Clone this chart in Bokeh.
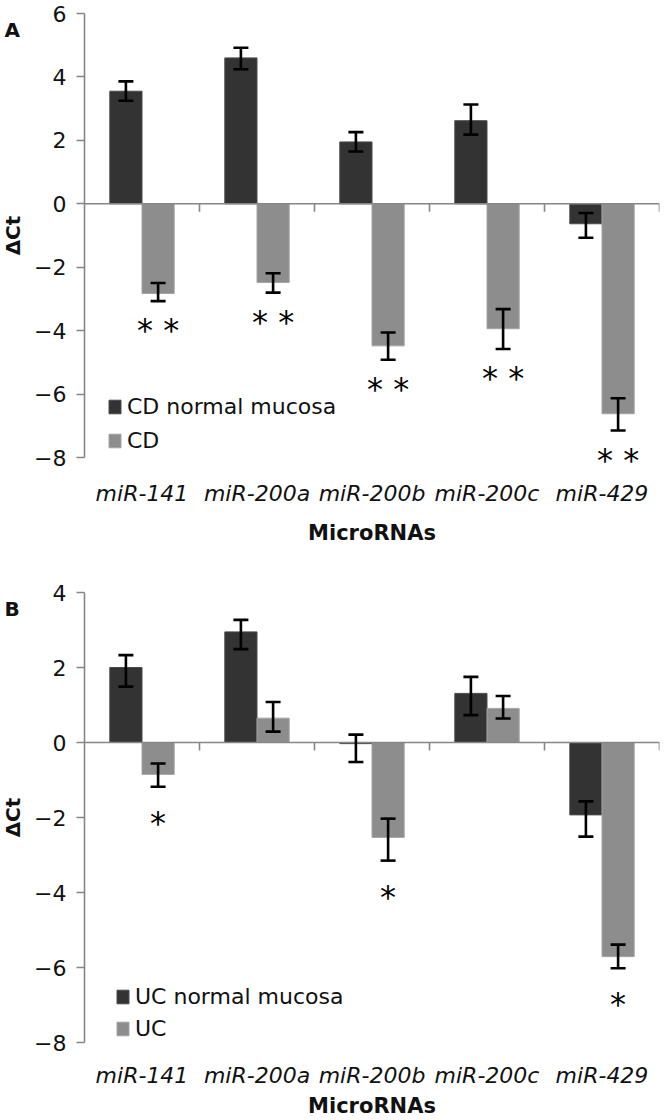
import numpy as np
from bokeh.plotting import figure
from bokeh.models import (ColumnDataSource, Range1d, FixedTicker, Whisker, TeeHead,
                          Span, Legend, LegendItem)
from bokeh.layouts import column, row
from bokeh.core.properties import value
from bokeh.embed import file_html
from bokeh.resources import INLINE

categories = ["miR-141", "miR-200a", "miR-200b", "miR-200c", "miR-429"]

# Panel A (Crohn's disease)
a_normal = [3.55, 4.60, 1.95, 2.62, -0.63]
a_normal_err_up = [0.31, 0.32, 0.31, 0.51, 0.34]
a_normal_err_dn = [0.30, 0.36, 0.30, 0.44, 0.44]
a_cd = [-2.83, -2.48, -4.48, -3.94, -6.62]
a_cd_err_up = [0.33, 0.29, 0.42, 0.62, 0.49]
a_cd_err_dn = [0.24, 0.32, 0.44, 0.64, 0.53]
a_sig = ["* *", "* *", "* *", "* *", "* *"]
a_yticks = [-8, -6, -4, -2, 0, 2, 4, 6]
a_legend = ["CD normal mucosa", "CD"]

# Panel B (ulcerative colitis)
b_normal = [2.00, 2.95, -0.03, 1.31, -1.93]
b_normal_err_up = [0.33, 0.32, 0.24, 0.44, 0.36]
b_normal_err_dn = [0.51, 0.46, 0.49, 0.58, 0.58]
b_uc = [-0.85, 0.65, -2.53, 0.91, -5.71]
b_uc_err_up = [0.29, 0.43, 0.50, 0.33, 0.32]
b_uc_err_dn = [0.33, 0.36, 0.62, 0.27, 0.31]
b_sig = ["*", "", "*", "", "*"]
b_yticks = [-8, -6, -4, -2, 0, 2, 4]
b_legend = ["UC normal mucosa", "UC"]

FONT = "DejaVu Sans"
TXT = "#111111"
AXIS = "#868686"
DARK = "#333333"
DARK_LINE = "#4a4a4a"
LIGHT = "#8d8d8d"
LIGHT_LINE = "#a4a4a4"

SIDE_W = 26      # narrow strip holding the panel letter and the y title
MAIN_W = 664 - SIDE_W


def side_strip(letter, height, frame_h, axis_px):
    # the strip's frame is aligned with the neighbouring plot frame;
    # its y coordinates are pixels measured down from the frame top
    s = figure(width=SIDE_W, height=height, output_backend="svg", toolbar_location=None,
               x_range=Range1d(0, SIDE_W), y_range=Range1d(frame_h, 0),
               x_axis_location=None, y_axis_location=None,
               min_border=0, min_border_left=0, min_border_right=0,
               min_border_top=0, min_border_bottom=0)
    s.outline_line_color = None
    s.grid.visible = False
    s.text(x=[4], y=[16], text=[letter], text_font=value(FONT),
           text_font_size="20px", text_font_style="bold", text_color=TXT,
           text_align="left", text_baseline="alphabetic")
    s.text(x=[12], y=[axis_px / 2], text=["\u0394Ct"], angle=np.pi / 2,
           text_font=value(FONT), text_font_size="20px", text_font_style="bold",
           text_color=TXT, text_align="center", text_baseline="middle")
    return s


def make_panel(normal, n_up, n_dn, dis, d_up, d_dn, sig, yticks, legend_labels,
               height, top_border, axis_px, pad_px, lab_standoff, title_standoff,
               star_gap, legend_loc, legend_spacing):
    n = len(categories)
    centers = np.arange(n) + 0.5
    bw = 0.28
    ymin, ymax = min(yticks), max(yticks)
    units_per_px = (ymax - ymin) / axis_px
    frame_h = axis_px + pad_px
    bottom_border = height - top_border - frame_h

    p = figure(width=MAIN_W, height=height, output_backend="svg", toolbar_location=None,
               x_range=Range1d(0, n),
               y_range=Range1d(ymin - pad_px * units_per_px, ymax),
               min_border_left=58, min_border_right=5,
               min_border_top=top_border, min_border_bottom=bottom_border)
    p.outline_line_color = None
    p.xgrid.visible = False
    p.ygrid.visible = False

    src_n = ColumnDataSource(dict(x=centers - bw / 2, top=normal,
                                  upper=np.array(normal) + np.array(n_up),
                                  lower=np.array(normal) - np.array(n_dn)))
    src_d = ColumnDataSource(dict(x=centers + bw / 2, top=dis,
                                  upper=np.array(dis) + np.array(d_up),
                                  lower=np.array(dis) - np.array(d_dn),
                                  sig=sig))

    r_n = p.vbar(x="x", top="top", bottom=0, width=bw, source=src_n,
                 fill_color=DARK, line_color=DARK_LINE, line_width=1)
    r_d = p.vbar(x="x", top="top", bottom=0, width=bw, source=src_d,
                 fill_color=LIGHT, line_color=LIGHT_LINE, line_width=1)

    # category axis line drawn at zero, with ticks at category boundaries
    p.add_layout(Span(location=0, dimension="width", line_color=AXIS, line_width=1.6))
    tick_len = 8 * units_per_px
    bounds = np.arange(1, n + 1)
    p.segment(x0=bounds, x1=bounds, y0=np.zeros(n), y1=np.full(n, -tick_len),
              line_color=AXIS, line_width=1.6)

    for src in (src_n, src_d):
        p.add_layout(Whisker(source=src, base="x", upper="upper", lower="lower",
                             line_color="black", line_width=2.6, level="annotation",
                             upper_head=TeeHead(size=15, line_color="black", line_width=2.6),
                             lower_head=TeeHead(size=15, line_color="black", line_width=2.6)))

    p.text(x="x", y="lower", text="sig", source=src_d, text_align="center",
           text_baseline="middle", y_offset=star_gap, text_color="black",
           text_font=value(FONT), text_font_size="32px")

    # value axis
    p.yaxis.bounds = (ymin, ymax)
    p.yaxis.ticker = FixedTicker(ticks=yticks)
    p.yaxis.major_label_overrides = {t: str(t).replace("-", "\u2212") for t in yticks}
    p.yaxis.axis_line_color = AXIS
    p.yaxis.axis_line_width = 1.6
    p.yaxis.major_tick_line_color = AXIS
    p.yaxis.major_tick_line_width = 1.6
    p.yaxis.major_tick_out = 8
    p.yaxis.major_tick_in = 0
    p.yaxis.minor_tick_line_color = None
    p.yaxis.major_label_standoff = 10
    p.yaxis.major_label_text_font = FONT
    p.yaxis.major_label_text_font_size = "22px"
    p.yaxis.major_label_text_color = TXT

    # category labels at the bottom
    p.xaxis.ticker = FixedTicker(ticks=list(centers))
    p.xaxis.major_label_overrides = {float(c): cat for c, cat in zip(centers, categories)}
    p.xaxis.axis_line_color = None
    p.xaxis.major_tick_line_color = None
    p.xaxis.minor_tick_line_color = None
    p.xaxis.major_tick_out = 0
    p.xaxis.major_tick_in = 0
    p.xaxis.major_label_standoff = lab_standoff
    p.xaxis.major_label_text_font = FONT
    p.xaxis.major_label_text_font_size = "22px"
    p.xaxis.major_label_text_font_style = "italic"
    p.xaxis.major_label_text_color = TXT
    p.xaxis.axis_label = "MicroRNAs"
    p.xaxis.axis_label_text_font = FONT
    p.xaxis.axis_label_text_font_size = "21px"
    p.xaxis.axis_label_text_font_style = "bold"
    p.xaxis.axis_label_text_color = TXT
    p.xaxis.axis_label_standoff = title_standoff

    legend = Legend(items=[LegendItem(label=legend_labels[0], renderers=[r_n]),
                           LegendItem(label=legend_labels[1], renderers=[r_d])],
                    location=legend_loc, background_fill_alpha=0, border_line_color=None,
                    padding=0, margin=0, spacing=legend_spacing, glyph_width=15,
                    glyph_height=17, label_standoff=5, label_height=20,
                    label_text_font=FONT, label_text_font_size="22px",
                    label_text_color=TXT)
    p.add_layout(legend)
    return p


HA, TOP_A, AXIS_A, PAD_A = 552, 13, 444, 16
HB, TOP_B, AXIS_B, PAD_B = 568, 40, 450, 0

pA = make_panel(a_normal, a_normal_err_up, a_normal_err_dn,
                a_cd, a_cd_err_up, a_cd_err_dn, a_sig, a_yticks, a_legend,
                height=HA, top_border=TOP_A, axis_px=AXIS_A, pad_px=PAD_A,
                lab_standoff=7, title_standoff=12, star_gap=29,
                legend_loc=(23, 20), legend_spacing=9)
pB = make_panel(b_normal, b_normal_err_up, b_normal_err_dn,
                b_uc, b_uc_err_up, b_uc_err_dn, b_sig, b_yticks, b_legend,
                height=HB, top_border=TOP_B, axis_px=AXIS_B, pad_px=PAD_B,
                lab_standoff=20, title_standoff=3, star_gap=36,
                legend_loc=(31, 1), legend_spacing=7)

sA = side_strip("A", HA, AXIS_A + PAD_A, AXIS_A)
sB = side_strip("B", HB, AXIS_B + PAD_B, AXIS_B)

layout = column(row(sA, pA, spacing=0), row(sB, pB, spacing=0), spacing=0)
open("out.html", "w").write(file_html(layout, INLINE))
